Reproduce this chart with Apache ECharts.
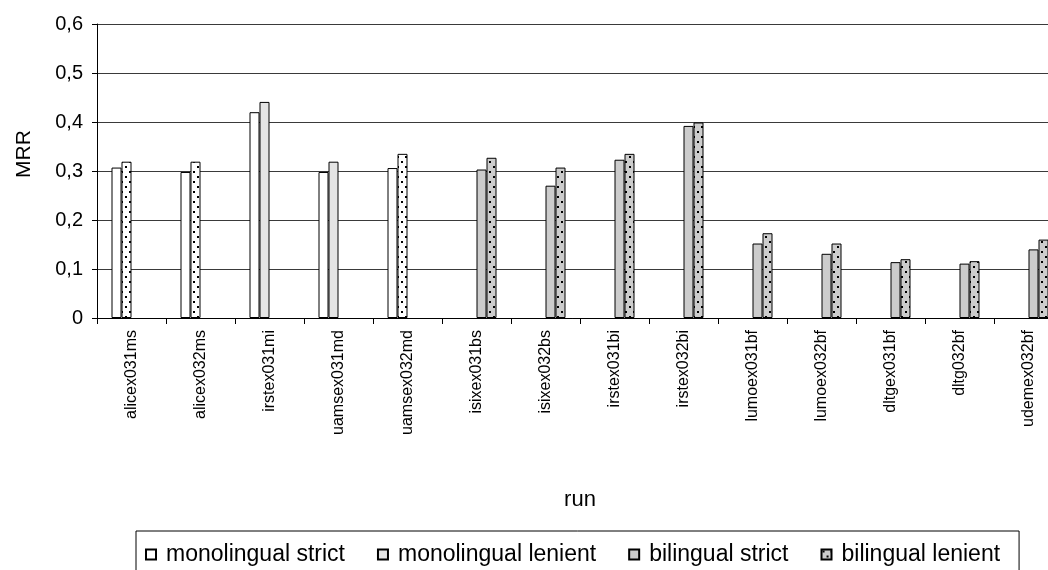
<!DOCTYPE html>
<html>
<head>
<meta charset="utf-8">
<script src="https://cdn.jsdelivr.net/npm/echarts@6/dist/echarts.min.js"></script>
<style>
  html, body { margin: 0; padding: 0; background: #fff; }
  #chart { width: 1048px; height: 570px; }
</style>
</head>
<body>
<div id="chart"></div>
<script>
// Runs on the x axis
const runs = ['alicex031ms', 'alicex032ms', 'irstex031mi', 'uamsex031md', 'uamsex032md',
  'isixex031bs', 'isixex032bs', 'irstex031bi', 'irstex032bi', 'lumoex031bf',
  'lumoex032bf', 'dltgex031bf', 'dltg032bf', 'udemex032bf'];

// MRR per run and evaluation mode
const monoStrict  = [0.307, 0.298, 0.420, 0.298, 0.306, null, null, null, null, null, null, null, null, null];
const monoLenient = [0.319, 0.319, 0.441, 0.319, 0.335, null, null, null, null, null, null, null, null, null];
const biStrict    = [null, null, null, null, null, 0.303, 0.270, 0.323, 0.392, 0.152, 0.131, 0.114, 0.111, 0.140];
const biLenient   = [null, null, null, null, null, 0.327, 0.307, 0.335, 0.399, 0.173, 0.152, 0.120, 0.116, 0.160];

// Runs whose lenient monolingual bar carries the dotted fill
const dottedMonoRuns = ['alicex031ms', 'alicex032ms', 'uamsex032md'];

// Y axis ticks
const yTicks = [0, 0.1, 0.2, 0.3, 0.4, 0.5, 0.6];

const seriesNames = ['monolingual strict', 'monolingual lenient', 'bilingual strict', 'bilingual lenient'];

const FONT = '"Liberation Sans", Arial, sans-serif';

// Small dotted fill: black 2x2 squares, staggered, on a background colour
function dotPattern(bg) {
  const c = document.createElement('canvas');
  c.width = 8; c.height = 10;
  const g = c.getContext('2d');
  g.fillStyle = bg;
  g.fillRect(0, 0, 8, 10);
  g.fillStyle = '#000';
  g.fillRect(1, 1, 2, 2);
  g.fillRect(5, 6, 2, 2);
  return { image: c, repeat: 'repeat' };
}

const greyDots = dotPattern('#cccccc');
const whiteDots = dotPattern('#ffffff');

const borderStyle = { borderColor: '#000', borderWidth: 1 };

const monoLenientData = monoLenient.map((v, i) =>
  dottedMonoRuns.includes(runs[i]) && v != null
    ? { value: v, itemStyle: { color: whiteDots } }
    : v);

function bar(name, data, color) {
  return {
    name, type: 'bar', data,
    barWidth: 10, barGap: '0%',
    itemStyle: Object.assign({ color }, borderStyle),
    emphasis: { disabled: true },
    animation: false
  };
}

const chart = echarts.init(document.getElementById('chart'));
chart.setOption({
  animation: false,
  textStyle: { fontFamily: FONT },
  grid: { left: 97, top: 24, bottom: 252, right: -15, containLabel: false, outerBoundsMode: 'none' },
  legend: {
    data: seriesNames,
    left: 136, top: 531,
    itemWidth: 10, itemHeight: 10, itemGap: 32,
    padding: [12, 19, 30, 9],
    borderColor: '#000', borderWidth: 1,
    icon: 'rect',
    textStyle: { fontFamily: FONT, fontSize: 23, color: '#000', padding: [0, 0, 0, 5] },
    selectedMode: false
  },
  xAxis: {
    type: 'category',
    data: runs,
    name: 'run',
    nameLocation: 'middle',
    nameGap: 171,
    nameTextStyle: { fontFamily: FONT, fontSize: 22, color: '#000' },
    axisLine: { lineStyle: { color: '#000', width: 1 } },
    axisTick: { show: true, length: 6, lineStyle: { color: '#000' } },
    axisLabel: { rotate: 90, fontFamily: FONT, fontSize: 16, color: '#000', margin: 12 },
    splitLine: { show: false }
  },
  yAxis: {
    type: 'value',
    min: yTicks[0], max: yTicks[yTicks.length - 1], interval: 0.1,
    name: 'MRR',
    nameLocation: 'middle',
    nameGap: 62,
    nameRotate: 90,
    nameTextStyle: { fontFamily: FONT, fontSize: 21, color: '#000', padding: [0, 0, 0, 34] },
    axisLine: { show: true, lineStyle: { color: '#000', width: 1 } },
    axisTick: { show: true, length: 5, lineStyle: { color: '#000' } },
    axisLabel: {
      fontFamily: FONT, fontSize: 20, color: '#000', margin: 14,
      formatter: v => v === 0 ? '0' : v.toFixed(1).replace('.', ',')
    },
    splitLine: { show: true, lineStyle: { color: '#3a3a3a', width: 1 } }
  },
  series: [
    bar(seriesNames[0], monoStrict, '#ffffff'),
    bar(seriesNames[1], monoLenientData, '#e4e4e4'),
    bar(seriesNames[2], biStrict, '#cccccc'),
    bar(seriesNames[3], biLenient, greyDots)
  ]
});
</script>
</body>
</html>
